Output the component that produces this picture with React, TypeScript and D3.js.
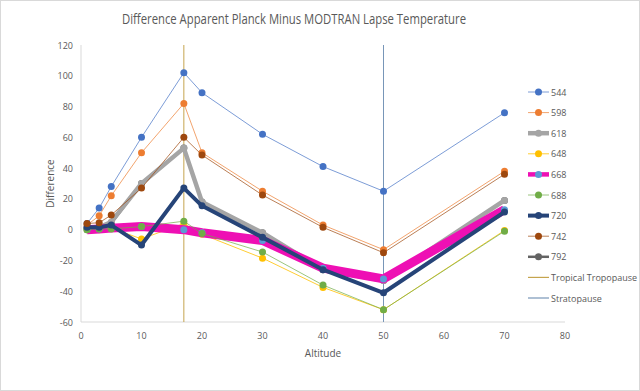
import React from 'react';
import * as d3 from 'd3';

const altitudes = [1, 3, 5, 10, 17, 20, 30, 40, 50, 70];

const s544 = [4, 14, 28, 60, 102, 89, 62, 41, 25, 76];
const s598 = [3, 9, 22, 50, 82, 50, 25, 3, -13, 38];
const s618 = [1, 1.5, 5, 30, 53, 18, -2, -26, -33, 19];
const s648 = [0, 0, 1, -6, 4, -3, -18.5, -37.5, -52, -0.5];
const s668 = [0, 0.5, 1, 2, 0, -2, -7, -25, -32, 13];
const s688 = [0, 0.5, 0.5, 2, 5.5, -2.5, -14.5, -36, -52, -1];
const s720 = [1.5, 1.5, 3, -10, 27, 15.5, -5, -26, -41, 11.5];
const s742 = [4, 4.5, 9.5, 27, 60, 48.5, 22.5, 1.5, -15, 36];
const s792 = [1, 1.3, 4, 30, 53, 18, -2, -26, -33, 19];

const xTicks = [0, 10, 20, 30, 40, 50, 60, 70, 80];
const yTicks = [-60, -40, -20, 0, 20, 40, 60, 80, 100, 120];

const tropopause = 17;
const stratopause = 50;

const series = [
  { name: '544', values: s544, color: '#4472C4', marker: '#4472C4', width: 1, alpha: 0.7 },
  { name: '598', values: s598, color: '#ED7D31', marker: '#ED7D31', width: 1, alpha: 0.7 },
  { name: '618', values: s618, color: '#A5A5A5', marker: '#A5A5A5', width: 4.5, alpha: 1 },
  { name: '648', values: s648, color: '#FFC000', marker: '#FFC000', width: 1, alpha: 0.8 },
  { name: '668', values: s668, color: '#EE10B4', marker: '#5B9BD5', width: 9, alpha: 1 },
  { name: '688', values: s688, color: '#70AD47', marker: '#70AD47', width: 1, alpha: 0.7 },
  { name: '720', values: s720, color: '#264478', marker: '#264478', width: 4, alpha: 1 },
  { name: '742', values: s742, color: '#9E480E', marker: '#9E480E', width: 1, alpha: 0.7 },
  { name: '792', values: s792, color: '#636363', marker: '#636363', width: 2.5, alpha: 1 },
];

// 792 sits underneath everything else
const drawOrder = ['792', '544', '598', '618', '648', '668', '688', '720', '742'];

const W = 640;
const H = 391;
const font = '"Open Sans", "Liberation Sans", sans-serif';
const textColor = '#595959';

export default function App() {
  const x = d3.scaleLinear().domain([0, 80]).range([81, 565]);
  const y = d3.scaleLinear().domain([-60, 120]).range([322, 45]);

  const line = d3
    .line<number>()
    .x((_, i) => x(altitudes[i]))
    .y((d) => y(d));

  const legendY = d3.scaleLinear().domain([0, 10]).range([92, 298]);
  const legendItems = [
    ...series.map((s) => ({ name: s.name, color: s.color, marker: s.marker, width: Math.min(s.width, 4.5), alpha: s.alpha, dot: true })),
    { name: 'Tropical Tropopause', color: '#C5A44E', marker: '', width: 1.2, alpha: 1, dot: false },
    { name: 'Stratopause', color: '#7896B8', marker: '', width: 1.2, alpha: 1, dot: false },
  ];

  return (
    <svg width={W} height={H} style={{ position: 'fixed', left: 0, top: 0, background: '#fff' }} fontFamily={font}>
      <rect x={0.5} y={0.5} width={W - 1} height={H - 1} fill="#fff" stroke="#D9D9D9" />

      <text x={294} y={24} textAnchor="middle" fontSize={14} fill={textColor} textLength={344} lengthAdjust="spacingAndGlyphs">
        Difference Apparent Planck Minus MODTRAN Lapse Temperature
      </text>

      {/* axes */}
      <line x1={x(0)} x2={x(0)} y1={y(120)} y2={y(-60)} stroke="#D9D9D9" />
      <line x1={x(0)} x2={x(80)} y1={y(-60)} y2={y(-60)} stroke="#D9D9D9" />

      {yTicks.map((t) => (
        <text key={t} x={73} y={y(t) + 3.5} textAnchor="end" fontSize={9} fill={textColor}>
          {t}
        </text>
      ))}
      {xTicks.map((t) => (
        <text key={t} x={x(t)} y={339} textAnchor="middle" fontSize={9} fill={textColor}>
          {t}
        </text>
      ))}

      <text x={x(40)} y={357} textAnchor="middle" fontSize={10} fill={textColor}>
        Altitude
      </text>
      <text transform={`translate(54, ${y(30)}) rotate(-90)`} textAnchor="middle" fontSize={10} fill={textColor}>
        Difference
      </text>

      {/* vertical reference lines */}
      <line x1={x(tropopause)} x2={x(tropopause)} y1={y(120)} y2={y(-60)} stroke="#C5A44E" strokeWidth={1} />
      <line x1={x(stratopause)} x2={x(stratopause)} y1={y(120)} y2={y(-60)} stroke="#7896B8" strokeWidth={1} />

      {drawOrder.map((name) => {
        const s = series.find((d) => d.name === name)!;
        return (
          <g key={name}>
            <path d={line(s.values) || ''} fill="none" stroke={s.color} strokeWidth={s.width} strokeOpacity={s.alpha} strokeLinejoin="round" />
            {s.values.map((v, i) => (
              <circle key={i} cx={x(altitudes[i])} cy={y(v)} r={3.5} fill={s.marker} />
            ))}
          </g>
        );
      })}

      {/* legend */}
      {legendItems.map((d, i) => (
        <g key={d.name} transform={`translate(0, ${legendY(i)})`}>
          <line x1={528} x2={549} y1={0} y2={0} stroke={d.color} strokeWidth={d.width} strokeOpacity={d.alpha} />
          {d.dot && <circle cx={538.5} cy={0} r={3.5} fill={d.marker} />}
          <text x={551} y={3.5} fontSize={9} fill={textColor}>
            {d.name}
          </text>
        </g>
      ))}
    </svg>
  );
}
